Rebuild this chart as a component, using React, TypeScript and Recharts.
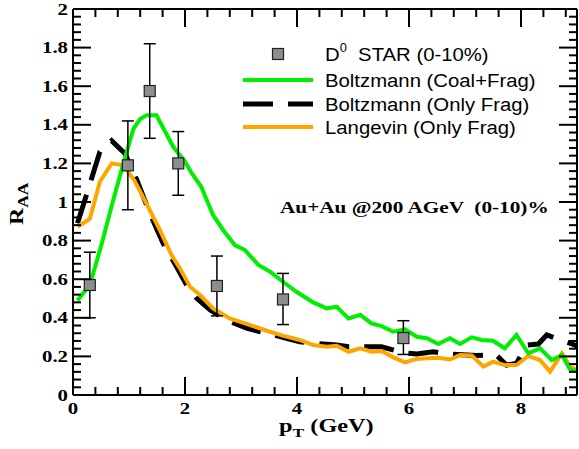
import React from 'react';
import { ComposedChart, Line, Scatter, ErrorBar, XAxis, YAxis, Legend } from 'recharts';

// ---------- data ----------
const starPt = [0.3, 0.98, 1.37, 1.88, 2.57, 3.75, 5.9];
const starRaa = [0.57, 1.19, 1.575, 1.2, 0.565, 0.495, 0.295];
const starErrLow = [0.17, 0.23, 0.245, 0.165, 0.155, 0.13, 0.085];
const starErrHigh = [0.17, 0.23, 0.245, 0.165, 0.155, 0.135, 0.09];

const coalPt = [0.08, 0.3, 0.5, 0.7, 0.9, 1.08, 1.2, 1.315, 1.49, 1.58, 1.79, 2.0, 2.12, 2.29, 2.5, 2.68, 2.89, 3.07, 3.31, 3.52, 3.75, 3.99, 4.29, 4.53, 4.71, 4.92, 5.13, 5.33, 5.51, 5.72, 5.93, 6.14, 6.32, 6.52, 6.73, 6.91, 7.12, 7.3, 7.5, 7.71, 7.92, 8.13, 8.34, 8.55, 8.73, 8.88, 9.0];
const coalRaa = [0.49, 0.57, 0.77, 0.99, 1.2, 1.38, 1.43, 1.45, 1.45, 1.4, 1.286, 1.209, 1.149, 1.079, 0.933, 0.855, 0.777, 0.751, 0.674, 0.639, 0.587, 0.535, 0.48, 0.449, 0.457, 0.397, 0.415, 0.371, 0.357, 0.328, 0.34, 0.302, 0.294, 0.264, 0.294, 0.264, 0.299, 0.285, 0.281, 0.242, 0.311, 0.216, 0.242, 0.181, 0.207, 0.13, 0.125];

const bFragPt = [0.08, 0.24, 0.48, 0.69, 0.93, 1.14, 1.375, 1.61, 1.85, 2.03, 2.21, 2.45, 2.74, 3.1, 3.46, 3.81, 4.05, 4.29, 4.71, 4.92, 5.24, 5.51, 5.9, 6.14, 6.43, 6.73, 7.21, 7.56, 7.74, 7.92, 8.1, 8.31, 8.46, 8.7, 8.88, 9.0];
const bFragRaa = [0.89, 1.036, 1.26, 1.318, 1.25, 1.114, 0.94, 0.786, 0.665, 0.57, 0.501, 0.44, 0.389, 0.346, 0.32, 0.294, 0.276, 0.268, 0.259, 0.25, 0.25, 0.25, 0.219, 0.212, 0.224, 0.212, 0.205, 0.207, 0.155, 0.164, 0.259, 0.264, 0.311, 0.285, 0.268, 0.254];

const langPt = [0.08, 0.3, 0.48, 0.69, 0.9, 1.1, 1.34, 1.55, 1.76, 1.91, 2.09, 2.27, 2.5, 2.8, 3.1, 3.46, 3.76, 4.05, 4.29, 4.53, 4.71, 4.92, 5.13, 5.33, 5.51, 5.72, 5.93, 6.14, 6.32, 6.52, 6.73, 6.91, 7.12, 7.33, 7.5, 7.71, 7.92, 8.13, 8.34, 8.52, 8.73, 8.88, 9.0];
const langRaa = [0.872, 0.912, 1.105, 1.2, 1.19, 1.11, 0.976, 0.855, 0.725, 0.656, 0.561, 0.518, 0.449, 0.397, 0.368, 0.333, 0.306, 0.285, 0.259, 0.25, 0.255, 0.224, 0.242, 0.224, 0.228, 0.195, 0.169, 0.187, 0.19, 0.193, 0.184, 0.207, 0.205, 0.147, 0.173, 0.155, 0.155, 0.202, 0.181, 0.121, 0.216, 0.147, 0.126];

const xMajorTicks = [0, 2, 4, 6, 8];
const xTickLabels = ['0', '2', '4', '6', '8'];
const yMajorTicks = [0, 0.2, 0.4, 0.6, 0.8, 1, 1.2, 1.4, 1.6, 1.8, 2];
const yTickLabels = ['0', '0.2', '0.4', '0.6', '0.8', '1', '1.2', '1.4', '1.6', '1.8', '2'];
const xMinorStep = 0.4;
const yMinorStep = 0.04;

const legendLabels = ['STAR (0-10%)', 'Boltzmann (Coal+Frag)', 'Boltzmann (Only Frag)', 'Langevin (Only Frag)'];

// ---------- derived tables ----------
const zip = (xs: number[], ys: number[]) => xs.map((x, i) => ({ x, y: ys[i] }));
const starData = starPt.map((x, i) => ({ x, y: starRaa[i], err: [starErrLow[i], starErrHigh[i]] }));
const coalData = zip(coalPt, coalRaa);
const bFragData = zip(bFragPt, bFragRaa);
const langData = zip(langPt, langRaa);

const xTicksAll: number[] = [];
for (let i = 0; i * xMinorStep <= 8.8 + 1e-9; i++) xTicksAll.push(Math.round(i * xMinorStep * 100) / 100);
const yTicksAll: number[] = [];
for (let i = 0; i * yMinorStep <= 2 + 1e-9; i++) yTicksAll.push(Math.round(i * yMinorStep * 100) / 100);

const GREEN = '#00ee00';
const ORANGE = '#ffa500';
const SERIF = '"Liberation Serif", "Times New Roman", serif';
const SANS = '"Liberation Sans", Arial, sans-serif';
const MAJ = 18;
const MIN = 8;
const AXW = 2;

const majorIndex = (v: number, majors: number[]) => majors.findIndex((m) => Math.abs(m - v) < 1e-6);

const BottomTick = (p: any) => {
  const { x, y, payload } = p;
  const idx = majorIndex(payload.value, xMajorTicks);
  const major = idx >= 0;
  return (
    <g>
      <line x1={x} x2={x} y1={y} y2={y - (major ? MAJ : MIN)} stroke="#000" strokeWidth={AXW} />
      {major && (
        <text transform={`translate(${x},${y + 19}) scale(1.3,1)`} textAnchor="middle" fontFamily={SERIF} fontWeight="bold" fontSize={16} fill="#000">
          {xTickLabels[idx]}
        </text>
      )}
    </g>
  );
};
const TopTick = (p: any) => {
  const { x, y, payload } = p;
  const major = majorIndex(payload.value, xMajorTicks) >= 0;
  return <line x1={x} x2={x} y1={y} y2={y + (major ? MAJ : MIN)} stroke="#000" strokeWidth={AXW} />;
};
const LeftTick = (p: any) => {
  const { x, y, payload } = p;
  const idx = majorIndex(payload.value, yMajorTicks);
  const major = idx >= 0;
  return (
    <g>
      <line x1={x} x2={x + (major ? MAJ : MIN)} y1={y} y2={y} stroke="#000" strokeWidth={AXW} />
      {major && (
        <text transform={`translate(${x - 5},${y + 5.5}) scale(1.3,1)`} textAnchor="end" fontFamily={SERIF} fontWeight="bold" fontSize={16} fill="#000">
          {yTickLabels[idx]}
        </text>
      )}
    </g>
  );
};
const RightTick = (p: any) => {
  const { x, y, payload } = p;
  const major = majorIndex(payload.value, yMajorTicks) >= 0;
  return <line x1={x} x2={x - (major ? MAJ : MIN)} y1={y} y2={y} stroke="#000" strokeWidth={AXW} />;
};

const SquareShape = (p: any) => {
  const { cx, cy } = p;
  if (cx == null || cy == null) return null;
  const s = 11;
  return <rect x={cx - s / 2} y={cy - s / 2} width={s} height={s} fill="#8e8e8e" stroke="#222" strokeWidth={1.2} />;
};

const LegendContent = () => {
  const lx1 = 13, lx2 = 83, tx = 95;
  const rows = [18, 44, 68, 91];
  const ts = (y: number) => `translate(${tx},${y}) scale(1.07,1)`;
  return (
    <svg width={340} height={105} style={{ display: 'block' }}>
      <rect x={48 - 5.5} y={rows[0] - 5.5} width={11} height={11} fill="#8e8e8e" stroke="#222" strokeWidth={1.2} />
      <text transform={ts(rows[0] + 6.5)} fontFamily={SANS} fontSize={19} fill="#000" style={{ whiteSpace: 'pre' }}>
        D<tspan fontSize={12} dy={-9}>0</tspan><tspan dy={9}>{'  ' + legendLabels[0]}</tspan>
      </text>
      <line x1={lx1} x2={lx2} y1={rows[1]} y2={rows[1]} stroke={GREEN} strokeWidth={4} />
      <text transform={ts(rows[1] + 6.7)} fontFamily={SANS} fontSize={19} fill="#000">{legendLabels[1]}</text>
      <line x1={lx1} x2={lx2} y1={rows[2]} y2={rows[2]} stroke="#000" strokeWidth={5} strokeDasharray="30 15" />
      <text transform={ts(rows[2] + 6.7)} fontFamily={SANS} fontSize={19} fill="#000">{legendLabels[2]}</text>
      <line x1={lx1} x2={lx2} y1={rows[3]} y2={rows[3]} stroke={ORANGE} strokeWidth={4} />
      <text transform={ts(rows[3] + 6.7)} fontFamily={SANS} fontSize={19} fill="#000">{legendLabels[3]}</text>
    </svg>
  );
};

export default function App() {
  return (
    <div style={{ position: 'absolute', left: 0, top: 0, width: 579, height: 449, background: '#fff' }}>
      <ComposedChart width={579} height={449} margin={{ top: 8, right: 1, bottom: 53, left: 72 }}>
        <XAxis
          xAxisId={0}
          type="number"
          dataKey="x"
          domain={[0, 9]}
          allowDataOverflow
          ticks={xTicksAll}
          interval={0}
          height={1}
          tickSize={0}
          tickMargin={0}
          tickLine={false}
          axisLine={{ stroke: '#000', strokeWidth: AXW }}
          tick={<BottomTick />}
        />
        <XAxis
          xAxisId="top"
          orientation="top"
          type="number"
          dataKey="x"
          domain={[0, 9]}
          allowDataOverflow
          ticks={xTicksAll}
          interval={0}
          height={1}
          tickSize={0}
          tickMargin={0}
          tickLine={false}
          axisLine={{ stroke: '#000', strokeWidth: AXW }}
          tick={<TopTick />}
        />
        <YAxis
          yAxisId={0}
          type="number"
          domain={[0, 2]}
          allowDataOverflow
          ticks={yTicksAll}
          interval={0}
          width={1}
          tickSize={0}
          tickMargin={0}
          tickLine={false}
          axisLine={{ stroke: '#000', strokeWidth: AXW }}
          tick={<LeftTick />}
        />
        <YAxis
          yAxisId="right"
          orientation="right"
          type="number"
          domain={[0, 2]}
          allowDataOverflow
          ticks={yTicksAll}
          interval={0}
          width={1}
          tickSize={0}
          tickMargin={0}
          tickLine={false}
          axisLine={{ stroke: '#000', strokeWidth: AXW }}
          tick={<RightTick />}
        />
        <Line data={bFragData} dataKey="y" type="linear" stroke="#000" strokeWidth={5} strokeDasharray="30 15" dot={false} isAnimationActive={false} />
        <Line data={langData} dataKey="y" type="linear" stroke={ORANGE} strokeWidth={4} dot={false} isAnimationActive={false} />
        <Line data={coalData} dataKey="y" type="linear" stroke={GREEN} strokeWidth={4} dot={false} isAnimationActive={false} />
        <Scatter data={starData} dataKey="y" shape={<SquareShape />} isAnimationActive={false}>
          <ErrorBar dataKey="err" direction="y" width={6} stroke="#000" strokeWidth={1.5} isAnimationActive={false} />
        </Scatter>
        <Legend
          layout="horizontal"
          verticalAlign="middle"
          align="center"
          content={<LegendContent />}
          wrapperStyle={{ position: 'absolute', left: 230, top: 36, width: 340, height: 105 }}
        />
      </ComposedChart>
      <svg width={579} height={449} style={{ position: 'absolute', left: 0, top: 0, pointerEvents: 'none' }}>
        <text transform="translate(280,213) scale(1.25,1)" fontFamily={SERIF} fontWeight="bold" fontSize={17} fill="#000" style={{ whiteSpace: 'pre' }}>
          {'Au+Au @200 AGeV  (0-10)%'}
        </text>
        <text transform="translate(279,432) scale(1.35,1)" fontFamily={SERIF} fontWeight="bold" fontSize={18} fill="#000" style={{ whiteSpace: 'pre' }}>
          p<tspan fontSize={13} dy={5}>T</tspan><tspan dy={-5}>{' (GeV)'}</tspan>
        </text>
      </svg>
      <div
        style={{
          position: 'absolute',
          left: 7,
          top: 225,
          transformOrigin: '0 0',
          transform: 'rotate(-90deg) scaleX(1.25)',
          fontFamily: SERIF,
          fontWeight: 'bold',
          fontSize: 19,
          lineHeight: '19px',
          whiteSpace: 'nowrap',
          color: '#000',
        }}
      >
        R<span style={{ fontSize: 14, position: 'relative', top: 5 }}>AA</span>
      </div>
    </div>
  );
}
